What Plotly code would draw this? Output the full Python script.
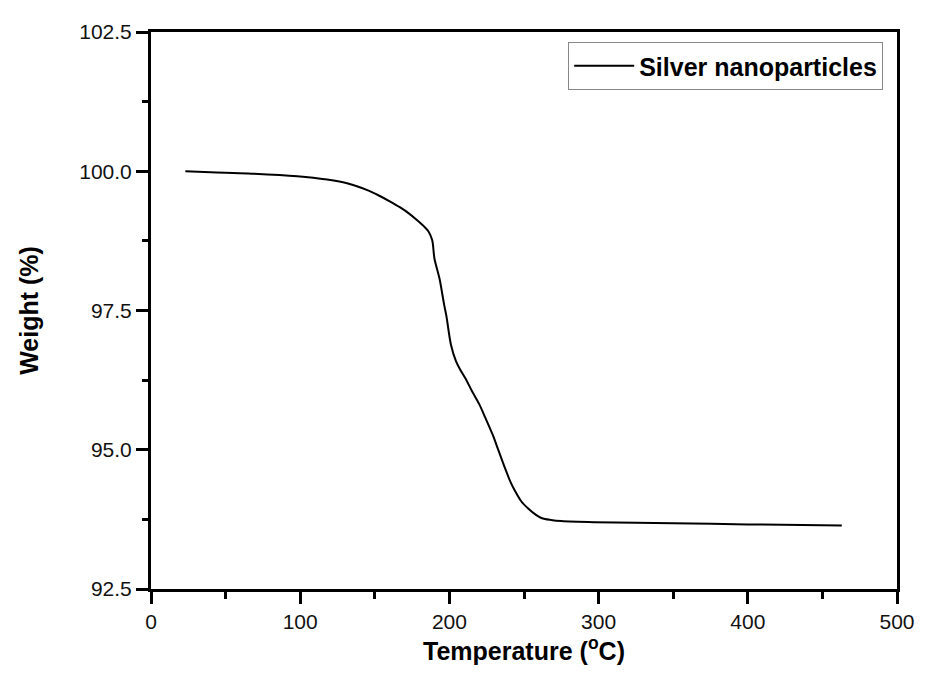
import plotly.graph_objects as go

temperature = [23, 40, 65, 98, 118, 132, 145, 153, 160, 167, 173, 178, 183, 186, 188.5, 190, 193.4,
               196.5, 198, 201, 204.4, 207, 211, 215, 220, 224, 229, 233, 237.4, 241, 244, 248,
               253, 258, 262, 268, 275, 297, 350, 400, 463]
weight = [100.00, 99.98, 99.96, 99.91, 99.85, 99.78, 99.66, 99.56, 99.46, 99.35, 99.24, 99.13,
          99.01, 98.92, 98.76, 98.43, 98.07, 97.6, 97.4, 96.89, 96.59, 96.45, 96.27, 96.06, 95.82,
          95.58, 95.27, 94.98, 94.66, 94.42, 94.26, 94.08, 93.94, 93.83, 93.77, 93.74, 93.72,
          93.70, 93.68, 93.66, 93.64]
series_name = "Silver nanoparticles"
x_ticks = [0, 100, 200, 300, 400, 500]
y_ticks = [92.5, 95.0, 97.5, 100.0, 102.5]
y_tick_labels = ["92.5", "95.0", "97.5", "100.0", "102.5"]

FONT = "Arial, 'Liberation Sans', Helvetica, sans-serif"

fig = go.Figure()
fig.add_trace(go.Scatter(
    x=temperature, y=weight, mode="lines", name=series_name,
    line=dict(color="black", width=2, shape="spline", smoothing=0.8),
    showlegend=True,
))

axis_common = dict(
    showline=True, linecolor="black", linewidth=3, mirror=True,
    ticks="outside", ticklen=12, tickwidth=3, tickcolor="black",
    showgrid=False, zeroline=False,
    tickfont=dict(family=FONT, size=21, color="#111"),
)

fig.update_layout(
    width=919, height=663,
    margin=dict(l=143, r=20, t=20, b=81),
    paper_bgcolor="white", plot_bgcolor="white",
    font=dict(family=FONT, color="black"),
    xaxis=dict(
        range=[0, 500], tickvals=x_ticks,
        minor=dict(dtick=50, ticks="outside", ticklen=7, tickwidth=3, tickcolor="black"),
        title=dict(text="<b>Temperature (<sup>o</sup>C)</b>", font=dict(family=FONT, size=25), standoff=8),
        **axis_common,
    ),
    yaxis=dict(
        range=[92.5, 102.5], tickvals=y_ticks, ticktext=y_tick_labels,
        minor=dict(dtick=1.25, tick0=92.5, ticks="outside", ticklen=6, tickwidth=3, tickcolor="black"),
        title=dict(text="<b>Weight (%)</b>", font=dict(family=FONT, size=25), standoff=34),
        **axis_common,
    ),
    legend=dict(
        x=0.9815, y=0.982, xanchor="right", yanchor="top",
        bordercolor="#888", borderwidth=1, bgcolor="white",
        font=dict(family=FONT, size=25, color="black", weight="bold"),
        itemwidth=60,
    ),
)

fig.write_html("out.html")
